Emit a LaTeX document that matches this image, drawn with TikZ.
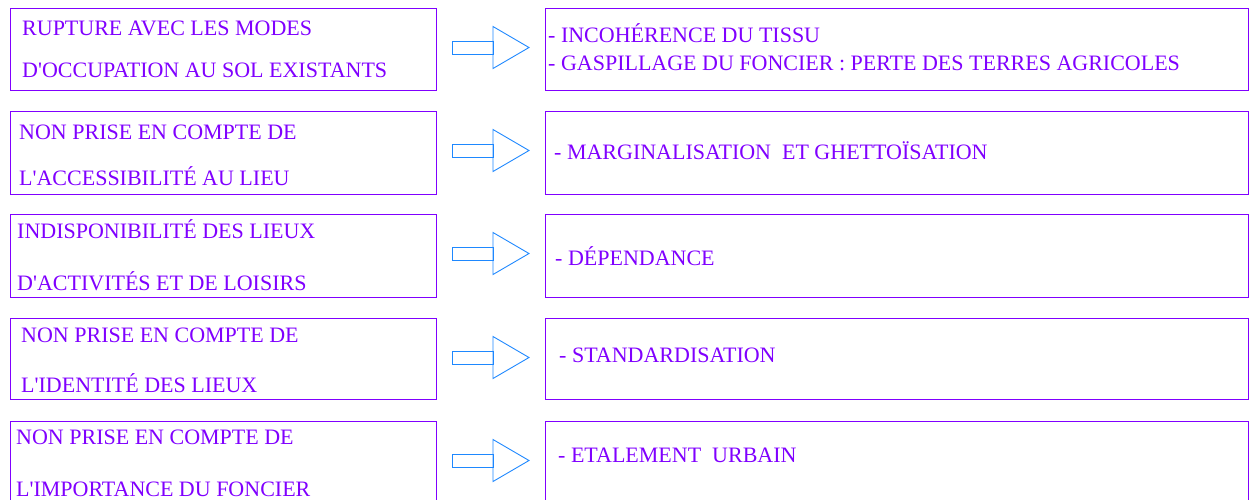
\documentclass[tikz,border=0pt]{standalone}
\usepackage{fontspec}
\newfontfamily\tnr{Liberation Serif}
\definecolor{violet}{HTML}{8000FF}
\definecolor{arrowblue}{HTML}{1E88FF}
\begin{document}
\begin{tikzpicture}[x=1pt,y=-1pt,
  box/.style={draw=violet,line width=1.3pt,inner sep=0pt},
  txt/.style={anchor=base west,inner sep=0pt,text=violet,font=\tnr\fontsize{22}{26}\selectfont},
  blockarrow/.style={draw=arrowblue,line width=0.9pt,line join=miter}]
\useasboundingbox (0,0) rectangle (1251,499);
\clip (0,0) rectangle (1251,499);

% left and right boxes, one pair per row
\foreach \r/\t/\b in {1/8/90,2/111/194,3/214/297,4/318/399,5/421/520}{
  \node[box,minimum width=426pt,minimum height={\b-\t},anchor=north west] (L\r) at (10,\t) {};
  \node[box,minimum width=703pt,minimum height={\b-\t},anchor=north west] (R\r) at (545,\t) {};
}

% block arrows between the boxes
\foreach \r/\c in {1/47.5,2/150.5,3/253.5,4/357.5,5/460.5}{
  \coordinate (A\r) at (452,\c);
  \draw[blockarrow] ([yshift=-6.5pt]A\r) rectangle ([xshift=41pt,yshift=6.5pt]A\r);
  \draw[blockarrow] ([xshift=41pt,yshift=-21pt]A\r) -- ([xshift=77pt]A\r)
        -- ([xshift=41pt,yshift=21pt]A\r) -- cycle;
}

% left texts
\node[txt] (l1a) at (22,35) {RUPTURE AVEC LES MODES};
\node[txt] (l1b) at (22,77) {D'OCCUPATION AU SOL EXISTANTS};
\node[txt] (l2a) at (19,139) {NON PRISE EN COMPTE DE};
\node[txt] (l2b) at (19,185) {L'ACCESSIBILITÉ AU LIEU};
\node[txt] (l3a) at (17,238) {INDISPONIBILITÉ DES LIEUX};
\node[txt] (l3b) at (17,290) {D'ACTIVITÉS ET DE LOISIRS};
\node[txt] (l4a) at (21,342) {NON PRISE EN COMPTE DE};
\node[txt] (l4b) at (21,392) {L'IDENTITÉ DES LIEUX};
\node[txt] (l5a) at (16,444) {NON PRISE EN COMPTE DE};
\node[txt] (l5b) at (16,496) {L'IMPORTANCE DU FONCIER};

% right texts
\node[txt] (r1a) at (548,42) {- INCOHÉRENCE DU TISSU};
\node[txt] (r1b) at (548,70) {- GASPILLAGE DU FONCIER : PERTE DES TERRES AGRICOLES};
\node[txt] (r2) at (554,159) {- MARGINALISATION\ \ ET GHETTOÏSATION};
\node[txt] (r3) at (555,265) {- DÉPENDANCE};
\node[txt] (r4) at (559,362) {- STANDARDISATION};
\node[txt] (r5) at (558,462) {- ETALEMENT\ \ URBAIN};
\end{tikzpicture}
\end{document}
